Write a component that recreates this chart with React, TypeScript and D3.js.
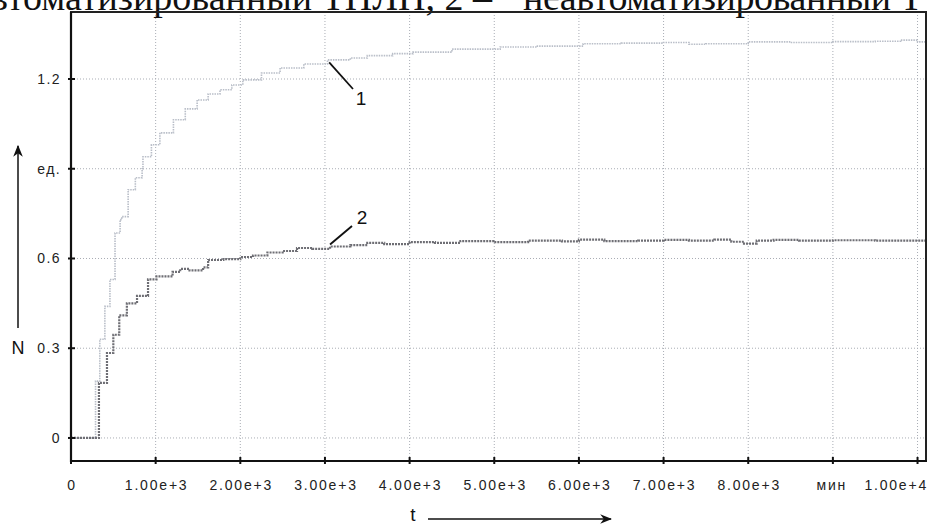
import React from "react";
import * as d3 from "d3";

const xTicks = [0, 1000, 2000, 3000, 4000, 5000, 6000, 7000, 8000, 9000, 10000];
const xTickLabels = ["0", "1.00e+3", "2.00e+3", "3.00e+3", "4.00e+3", "5.00e+3", "6.00e+3", "7.00e+3", "8.00e+3", "мин", "1.00e+4"];
const yTicks = [0, 0.3, 0.6, 0.9, 1.2];
const yTickLabels = ["0", "0.3", "0.6", "ед.", "1.2"];

const t1 = [0, 290, 340, 400, 460, 520, 580, 600, 675, 760, 840, 850, 950, 1050, 1210, 1350, 1490, 1620, 1760, 1900, 2030, 2250, 2470, 2750, 3030, 3300, 3500, 3800, 4040, 4500, 5070, 5500, 6050, 6500, 7000, 7300, 7500, 8000, 8500, 9000, 9500, 9800, 10000, 10100];
const n1 = [0, 0.19, 0.33, 0.44, 0.53, 0.685, 0.73, 0.74, 0.83, 0.87, 0.9, 0.94, 0.98, 1.02, 1.064, 1.1, 1.13, 1.15, 1.164, 1.18, 1.197, 1.22, 1.237, 1.25, 1.264, 1.27, 1.278, 1.285, 1.29, 1.3, 1.307, 1.31, 1.318, 1.32, 1.322, 1.316, 1.318, 1.324, 1.322, 1.325, 1.326, 1.33, 1.324, 1.324];

const t2 = [0, 330, 425, 500, 570, 660, 780, 910, 1010, 1200, 1290, 1400, 1560, 1620, 1800, 2000, 2150, 2320, 2500, 2670, 2850, 3060, 3300, 3500, 3700, 4000, 4300, 4600, 5000, 5400, 5800, 6000, 6300, 6700, 7000, 7300, 7600, 7800, 7950, 8100, 8300, 8600, 9000, 9500, 10000, 10100];
const n2 = [0, 0.184, 0.284, 0.345, 0.41, 0.45, 0.475, 0.53, 0.54, 0.555, 0.565, 0.56, 0.57, 0.595, 0.598, 0.605, 0.61, 0.62, 0.625, 0.635, 0.632, 0.64, 0.645, 0.652, 0.648, 0.655, 0.652, 0.658, 0.655, 0.66, 0.657, 0.663, 0.658, 0.66, 0.662, 0.66, 0.663, 0.656, 0.65, 0.66, 0.662, 0.66, 0.661, 0.66, 0.66, 0.66];

const W = 930;
const H = 526;
const sans = "'Liberation Sans', Arial, sans-serif";
const serif = "'Liberation Serif', 'Times New Roman', serif";

export default function App() {
  const x = d3.scaleLinear().domain([0, 10100]).range([71, 926]);
  const y = d3.scaleLinear().domain([-0.077, 1.424]).range([461, 12]);
  const mk = (ts: number[], ns: number[]) =>
    d3
      .line<number>()
      .x((_, i) => x(ts[i]))
      .y((d) => y(d))
      .curve(d3.curveStepAfter)(ns) as string;
  const left = x(0);
  const right = x(10100);
  const top = y(1.424);
  const bottom = y(-0.077);
  const last = xTicks.length - 1;

  return (
    <div style={{ position: "absolute", left: 0, top: 0 }}>
      <svg width={W} height={H} style={{ display: "block", background: "#fff" }}>
        <defs>
          <marker id="arr" viewBox="0 0 10 10" refX="9" refY="5" markerWidth="8" markerHeight="8" orient="auto-start-reverse">
            <path d="M0,1 L10,5 L0,9 L3,5 Z" fill="#111" />
          </marker>
        </defs>
        {/* caption, cut off at top as in the scan */}
        <text x={492} y={10} textAnchor="end" fontFamily={serif} fontSize={38} fill="#111">
          автоматизированный ТПЛП, 2 –
        </text>
        <text x={523} y={10} fontFamily={serif} fontSize={38} fill="#111" textLength={400} lengthAdjust="spacing">
          неавтоматизированный Т
        </text>
        {/* grid */}
        {xTicks.slice(1).map((t) => (
          <line key={"gx" + t} x1={x(t)} x2={x(t)} y1={top} y2={bottom} stroke="#a9adb5" strokeWidth={1} strokeDasharray="1,2" />
        ))}
        {yTicks.map((v) => (
          <line key={"gy" + v} x1={left} x2={right} y1={y(v)} y2={y(v)} stroke="#a9adb5" strokeWidth={1} strokeDasharray="1,2" />
        ))}
        {/* curves */}
        <path d={mk(t1, n1)} fill="none" stroke="#b9bec8" strokeWidth={1.6} strokeDasharray="1.5,1" />
        <path d={mk(t2, n2)} fill="none" stroke="#6e6e74" strokeWidth={2.2} strokeDasharray="2,1" />
        {/* frame */}
        <line x1={left - 1} x2={right + 1} y1={top} y2={top} stroke="#222" strokeWidth={2} />
        <line x1={right} x2={right} y1={top} y2={bottom} stroke="#222" strokeWidth={2} />
        <line x1={left} x2={left} y1={top} y2={bottom + 1} stroke="#111" strokeWidth={2.2} />
        <line x1={left - 1} x2={right + 1} y1={bottom} y2={bottom} stroke="#111" strokeWidth={2.2} />
        {/* ticks */}
        {yTicks.map((v) => (
          <line key={"ty" + v} x1={left - 3} x2={left + 4} y1={y(v)} y2={y(v)} stroke="#111" strokeWidth={2} />
        ))}
        {xTicks.map((t) => (
          <line key={"tx" + t} x1={x(t)} x2={x(t)} y1={bottom - 4} y2={bottom + 3} stroke="#111" strokeWidth={2} />
        ))}
        {/* tick labels */}
        {yTicks.map((v, i) => (
          <text key={"ly" + v} x={61} y={y(v) + 5} textAnchor="end" fontFamily={sans} fontSize={14} letterSpacing={1.4} fill="#222">
            {yTickLabels[i]}
          </text>
        ))}
        {xTicks.map((t, i) => (
          <text
            key={"lx" + t}
            x={i === last ? 928 : i === last - 1 ? x(t) - 1 : x(t) + 1}
            y={490}
            textAnchor={i === last ? "end" : "middle"}
            fontFamily={sans}
            fontSize={14}
            letterSpacing={1.8}
            fill="#222"
          >
            {xTickLabels[i]}
          </text>
        ))}
        {/* axis titles */}
        <text x={18} y={354} textAnchor="middle" fontFamily={sans} fontSize={18} fill="#111">N</text>
        <line x1={18} x2={18} y1={328} y2={146} stroke="#111" strokeWidth={1.5} markerEnd="url(#arr)" />
        <text x={413} y={521} textAnchor="middle" fontFamily={sans} fontSize={19} fill="#111">t</text>
        <line x1={428} x2={611} y1={519} y2={519} stroke="#111" strokeWidth={1.5} markerEnd="url(#arr)" />
        {/* curve labels */}
        <line x1={x(3050)} x2={353} y1={y(1.262) + 2} y2={89} stroke="#111" strokeWidth={1.8} />
        <text x={361} y={105} textAnchor="middle" fontFamily={sans} fontSize={19} fill="#111">1</text>
        <line x1={x(3060)} x2={352} y1={y(0.64) - 2} y2={226} stroke="#111" strokeWidth={1.8} />
        <text x={362} y={224} textAnchor="middle" fontFamily={sans} fontSize={19} fill="#111">2</text>
      </svg>
    </div>
  );
}
